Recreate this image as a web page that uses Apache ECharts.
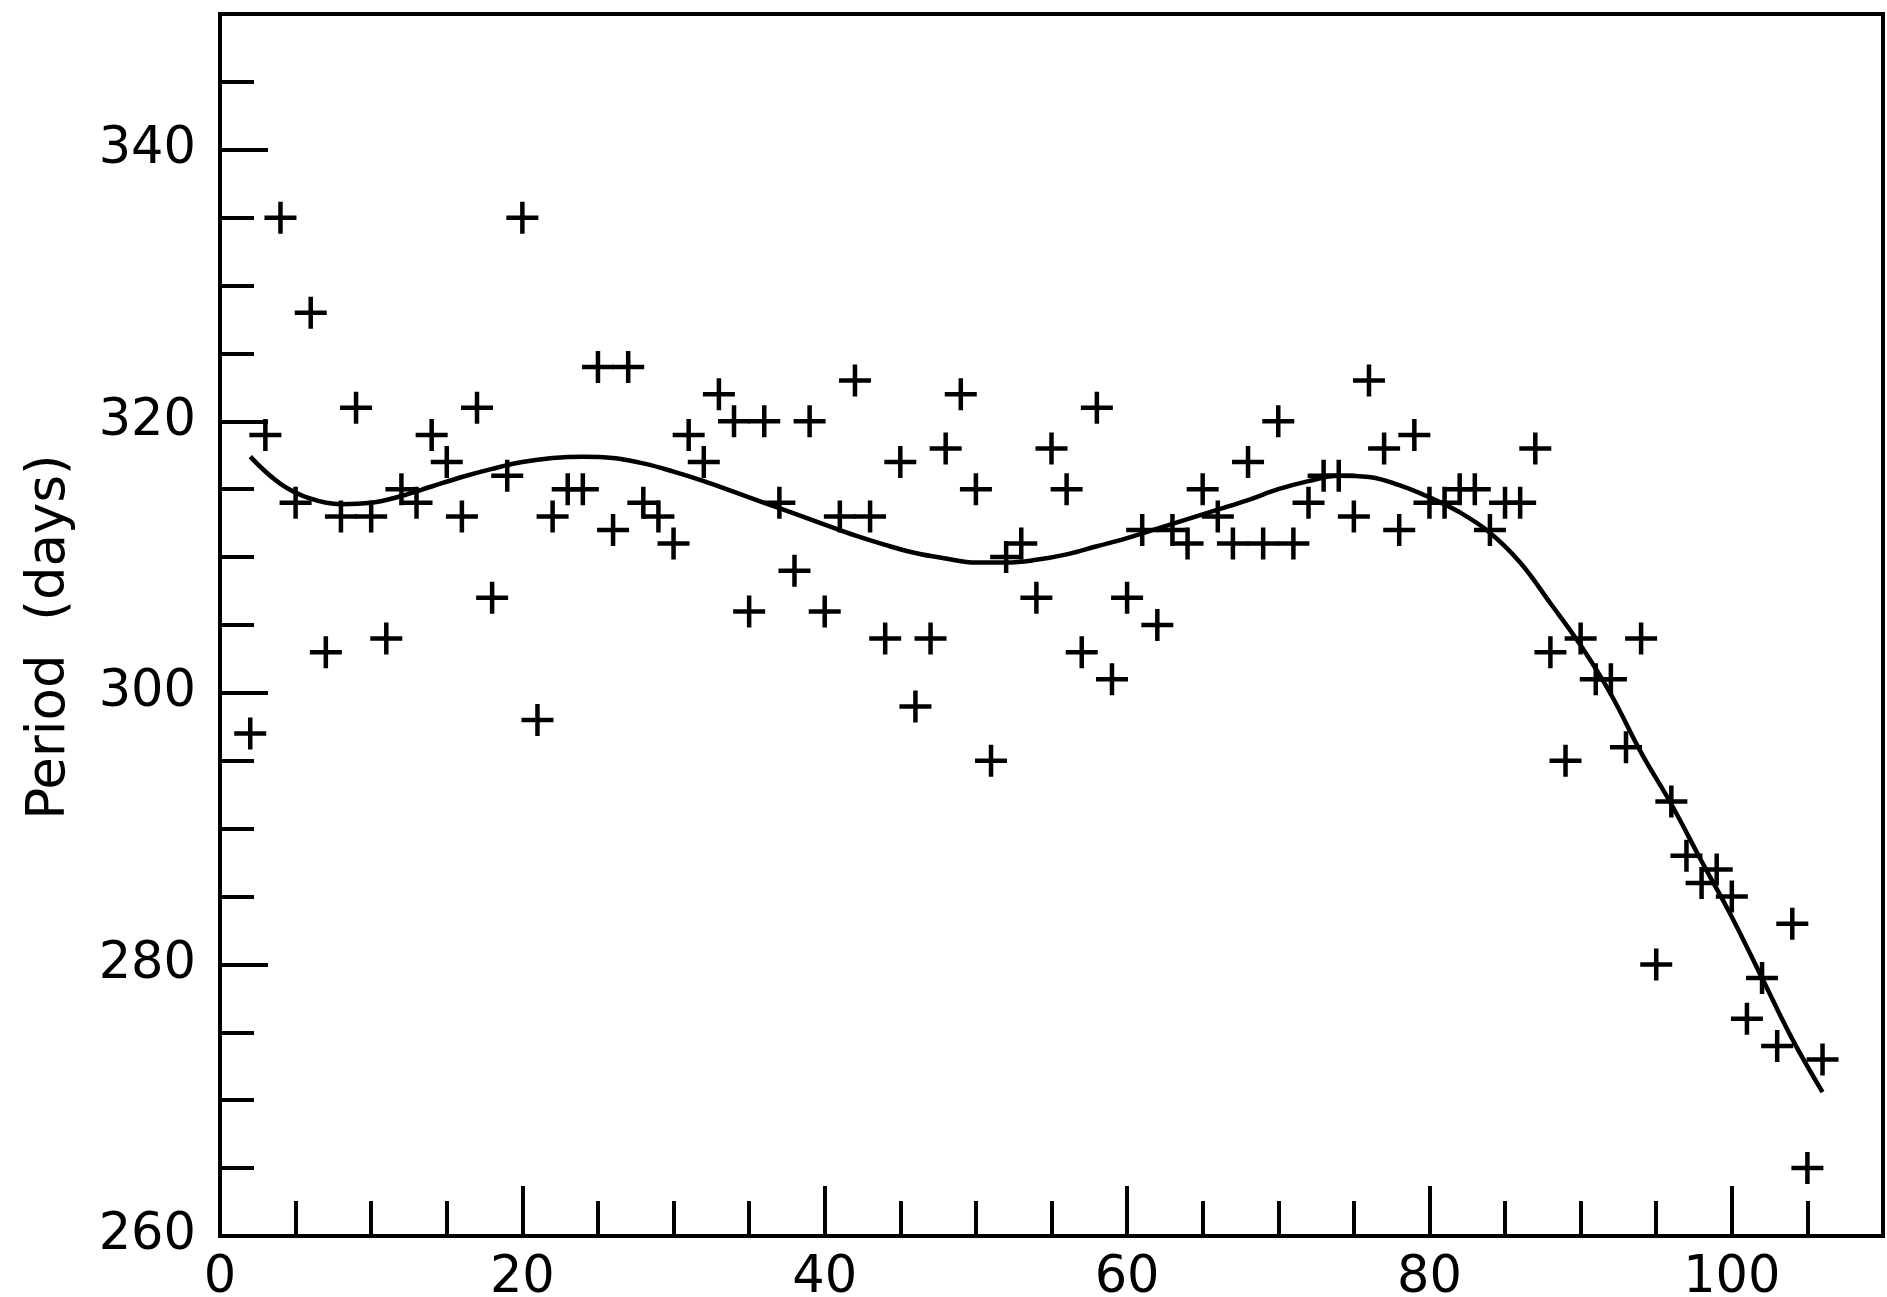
<!DOCTYPE html>
<html>
<head>
<meta charset="utf-8">
<title>Period (days)</title>
<script src="https://cdn.jsdelivr.net/npm/echarts@6/dist/echarts.min.js"></script>
<style>
    html, body { margin: 0; padding: 0; background: #fff; }
    #chart { width: 1887px; height: 1297px; }
</style>
</head>
<body>
<div id="chart"></div>
<script>
// measured points (+ marks)
var cycleNo = [2, 3, 4, 5, 6, 7, 8, 9, 10, 11,
    12, 13, 14, 15, 16, 17, 18, 19, 20, 21,
    22, 23, 24, 25, 26, 27, 28, 29, 30, 31,
    32, 33, 34, 35, 36, 37, 38, 39, 40, 41,
    42, 43, 44, 45, 46, 47, 48, 49, 50, 51,
    52, 53, 54, 55, 56, 57, 58, 59, 60, 61,
    62, 63, 64, 65, 66, 67, 68, 69, 70, 71,
    72, 73, 74, 75, 76, 77, 78, 79, 80, 81,
    82, 83, 84, 85, 86, 87, 88, 89, 90, 91,
    92, 93, 94, 95, 96, 97, 98, 99, 100, 101,
    102, 103, 104, 105, 106];
var period = [297, 319, 335, 314, 328, 303, 313, 321, 313, 304,
    315, 314, 319, 317, 313, 321, 307, 316, 335, 298,
    313, 315, 315, 324, 312, 324, 314, 313, 311, 319,
    317, 322, 320, 306, 320, 314, 309, 320, 306, 313,
    323, 313, 304, 317, 299, 304, 318, 322, 315, 295,
    310, 311, 307, 318, 315, 303, 321, 301, 307, 312,
    305, 312, 311, 315, 313, 311, 317, 311, 320, 311,
    314, 316, 316, 313, 323, 318, 312, 319, 314, 314,
    315, 315, 312, 314, 314, 318, 303, 295, 304, 301,
    301, 296, 304, 280, 292, 288, 286, 287, 285, 276,
    279, 274, 283, 265, 273];

// fitted curve
var fitX = [2, 4, 6, 8, 10, 12, 14, 16, 18, 20,
    22, 24, 26, 28, 30, 32, 34, 36, 38, 40,
    42, 44, 46, 48, 50, 52, 54, 56, 58, 60,
    62, 64, 66, 68, 70, 72, 74, 76, 78, 80,
    82, 84, 86, 88, 90, 92, 94, 96, 98, 100,
    102, 104, 106];
var fitY = [317.4, 315.4, 314.3, 313.9, 314.0, 314.5, 315.2, 315.9, 316.5, 317.0,
    317.3, 317.4, 317.3, 316.9, 316.3, 315.6, 314.8, 314.0, 313.2, 312.4,
    311.6, 310.9, 310.3, 309.9, 309.6, 309.6, 309.8, 310.2, 310.8, 311.4,
    312.1, 312.8, 313.5, 314.2, 315.0, 315.6, 316.0, 315.9, 315.3, 314.4,
    313.3, 311.8, 309.6, 306.6, 303.5, 299.9, 295.6, 291.8, 287.6, 283.5,
    279.0, 274.5, 270.6];

var xTickLabels = ['0', '20', '40', '60', '80', '100'];
var yTickLabels = ['260', '280', '300', '320', '340'];

var plusPath = 'path://M13.75,0 H18.25 V13.75 H32 V18.25 H18.25 V32 H13.75 V18.25 H0 V13.75 H13.75 Z';
var font = 'DejaVu Sans';

var chart = echarts.init(document.getElementById('chart'));

var scatterData = [];
for (var i = 0; i < cycleNo.length; i++) {
    scatterData.push([cycleNo[i], period[i]]);
}
var fitData = [];
for (var j = 0; j < fitX.length; j++) {
    fitData.push([fitX[j], fitY[j]]);
}

var option = {
    animation: false,
    backgroundColor: '#fff',
    grid: {
        left: 220, right: 4, top: 14, bottom: 61,
        containLabel: false, outerBoundsMode: 'none',
        show: true, borderColor: '#000', borderWidth: 4
    },
    xAxis: [
        {
            // short ticks every 5, labels every 20
            type: 'value', min: 0, max: 110, interval: 5, position: 'bottom',
            axisLine: { onZero: false, lineStyle: { color: '#000', width: 4 } },
            axisTick: { inside: true, length: 35, lineStyle: { color: '#000', width: 4 } },
            axisLabel: {
                color: '#000', fontSize: 51, fontFamily: font, margin: 17,
                showMaxLabel: false,
                formatter: function (v) {
                    return xTickLabels.indexOf(String(v)) >= 0 ? String(v) : '';
                }
            },
            splitLine: { show: false }
        },
        {
            // longer ticks every 20
            type: 'value', min: 0, max: 110, interval: 20, position: 'bottom', offset: 0,
            axisLine: { show: false, onZero: false },
            axisTick: { inside: true, length: 50, lineStyle: { color: '#000', width: 4 } },
            axisLabel: { show: false },
            splitLine: { show: false }
        }
    ],
    yAxis: [
        {
            type: 'value', min: 260, max: 350, interval: 5, position: 'left',
            name: 'Period  (days)', nameLocation: 'middle', nameGap: 143,
            nameTextStyle: { color: '#000', fontSize: 53, fontFamily: font, padding: [0, 24, 0, 0] },
            axisLine: { onZero: false, lineStyle: { color: '#000', width: 4 } },
            axisTick: { inside: true, length: 34, lineStyle: { color: '#000', width: 4 } },
            axisLabel: {
                color: '#000', fontSize: 51, fontFamily: font, margin: 24,
                showMaxLabel: false,
                formatter: function (v) {
                    return yTickLabels.indexOf(String(v)) >= 0 ? String(v) : '';
                }
            },
            splitLine: { show: false }
        },
        {
            type: 'value', min: 260, max: 350, interval: 20, position: 'left', offset: 0,
            axisLine: { show: false, onZero: false },
            axisTick: { inside: true, length: 48, lineStyle: { color: '#000', width: 4 } },
            axisLabel: { show: false },
            splitLine: { show: false }
        }
    ],
    series: [
        {
            name: 'period',
            type: 'scatter',
            xAxisIndex: 0, yAxisIndex: 0,
            symbol: plusPath,
            symbolSize: 32,
            itemStyle: { color: '#000', opacity: 1 },
            data: scatterData
        },
        {
            name: 'fit',
            type: 'line',
            xAxisIndex: 0, yAxisIndex: 0,
            smooth: 0.4,
            showSymbol: false,
            lineStyle: { color: '#000', width: 4.5 },
            data: fitData
        }
    ]
};

chart.setOption(option);
</script>
</body>
</html>
